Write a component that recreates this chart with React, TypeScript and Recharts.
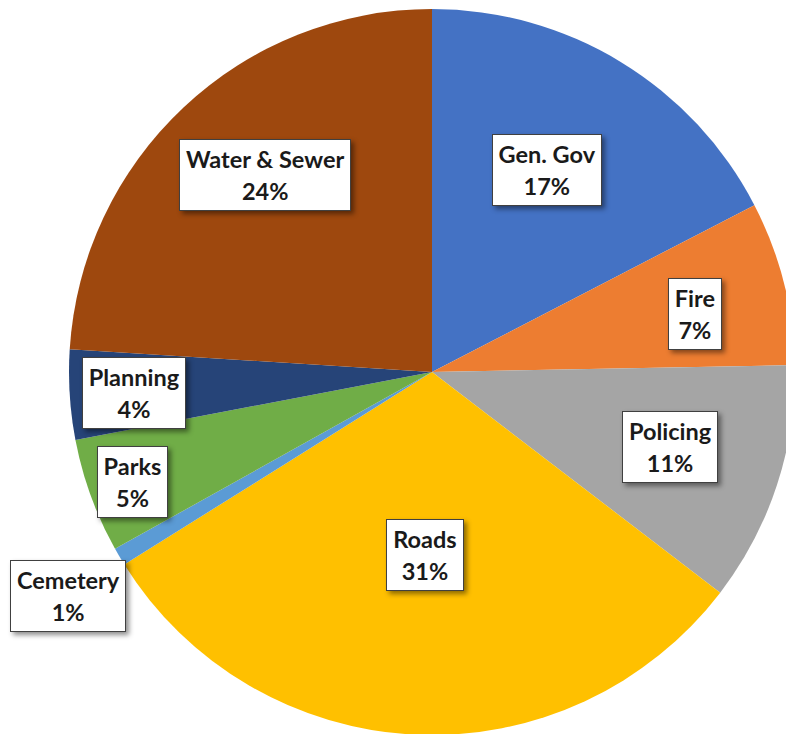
import { PieChart, Pie, Cell } from 'recharts';

const categories = ['Gen. Gov', 'Fire', 'Policing', 'Roads', 'Cemetery', 'Parks', 'Planning', 'Water & Sewer'];
const shares = [17.4, 7.3, 10.7, 30.7, 0.8, 5.1, 4.0, 24.0];
const colors = ['#4472C4', '#ED7D31', '#A5A5A5', '#FFC000', '#5B9BD5', '#70AD47', '#264478', '#9E480E'];
// label box placement: distance as a share of the radius, and a small turn off the slice middle (deg)
const labelReach = [0.64, 0.742, 0.688, 0.504, 1.177, 0.879, 0.823, 0.712];
const labelTurn = [-1.7, 1.7, -0.6, -0.5, -1, -0.2, -0.4, 3];

const data = categories.map((name, i) => ({ name, value: shares[i] }));

const RAD = Math.PI / 180;

function BoxLabel(props: any) {
  const { cx, cy, midAngle, outerRadius, index, percent } = props;
  const r = outerRadius * labelReach[index];
  const theta = (90 - midAngle + labelTurn[index]) * RAD;
  const x = cx + r * Math.sin(theta);
  const y = cy - r * Math.cos(theta);
  return (
    <foreignObject x={x - 150} y={y - 60} width={300} height={120} style={{ overflow: 'visible' }}>
      <div
        style={{
          width: '100%',
          height: '100%',
          display: 'flex',
          alignItems: 'center',
          justifyContent: 'center',
        }}
      >
        <div
          style={{
            background: '#fff',
            border: '1.5px solid #404040',
            padding: '3px 6px',
            fontFamily: 'Lato, sans-serif',
            fontWeight: 700,
            fontSize: 23.5,
            lineHeight: '32px',
            textAlign: 'center',
            color: '#1a1a1a',
            boxShadow: '3px 3px 5px rgba(0,0,0,0.45)',
            whiteSpace: 'nowrap',
          }}
        >
          {categories[index]}
          <br />
          {Math.round(percent * 100)}%
        </div>
      </div>
    </foreignObject>
  );
}

export default function App() {
  return (
    <div style={{ position: 'fixed', top: 0, left: 0, width: 786, height: 734, overflow: 'hidden', background: '#fff' }}>
      <PieChart width={786} height={734} margin={{ top: 0, right: 0, bottom: 0, left: 0 }}>
        <Pie
          data={data}
          dataKey="value"
          nameKey="name"
          cx={432}
          cy={372}
          outerRadius={363}
          startAngle={90}
          endAngle={-270}
          stroke="none"
          label={BoxLabel}
          labelLine={false}
          isAnimationActive={false}
        >
          {data.map((d, i) => (
            <Cell key={d.name} fill={colors[i]} />
          ))}
        </Pie>
      </PieChart>
    </div>
  );
}
